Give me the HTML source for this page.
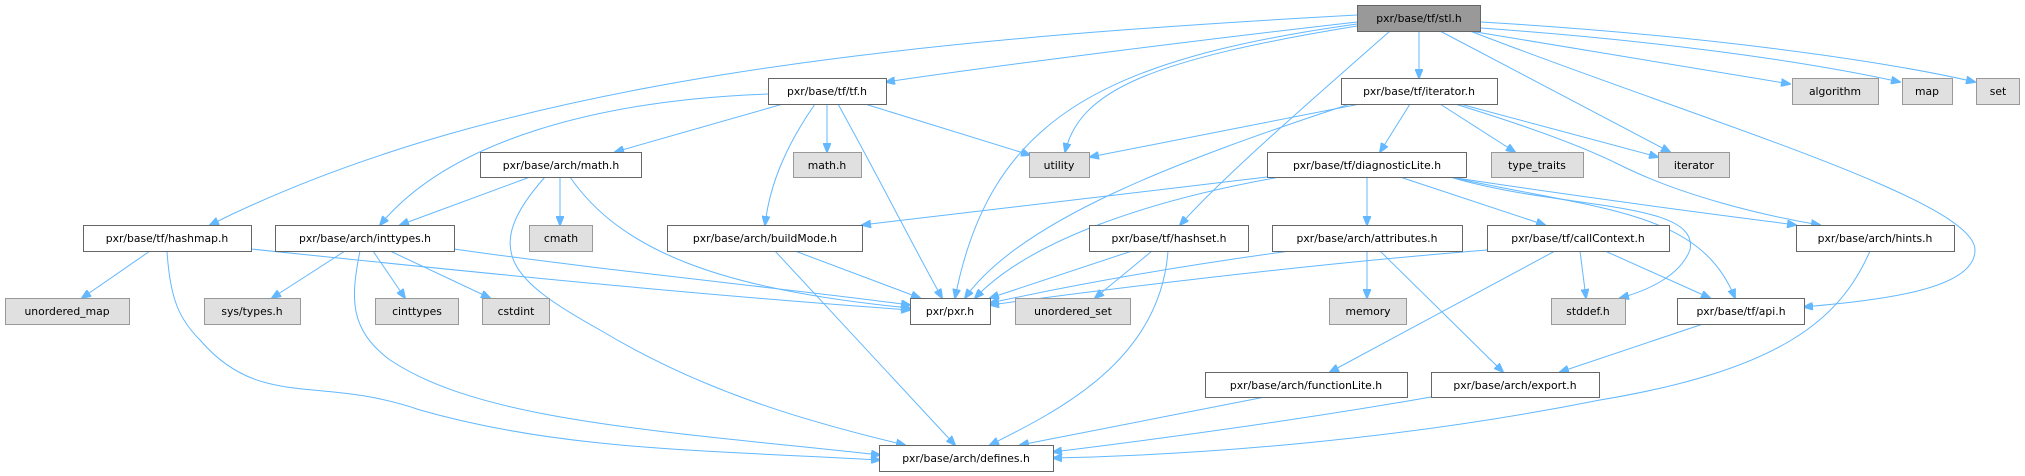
<!DOCTYPE html>
<html><head><meta charset="utf-8"><style>
html,body{margin:0;padding:0;background:#fff;}
svg{display:block;}
text{font-family:"DejaVu Sans","Liberation Sans",sans-serif;font-size:10.8px;fill:#000;text-anchor:middle;}
.n{fill:#fff;stroke:#666;stroke-width:1;}
.g{fill:#e0e0e0;stroke:#999;stroke-width:1;}
.r{fill:#999;stroke:#666;stroke-width:1;}
path.e{fill:none;stroke:#63b8ff;stroke-width:1;marker-end:url(#a);}
</style></head><body>
<svg width="2025" height="476" viewBox="0 0 2025 476" xmlns="http://www.w3.org/2000/svg">
<defs><marker id="a" markerWidth="10" markerHeight="8" refX="9" refY="4" orient="auto" markerUnits="userSpaceOnUse"><path d="M0,0 L10,4 L0,8 z" fill="#63b8ff" stroke="#63b8ff"/></marker></defs>
<!-- edges -->
<path class="e" d="M1357,15 C900,40 500,80 210,225"/>
<path class="e" d="M1357,22 C1200,40 1000,65 886,82"/>
<path class="e" d="M1357,24 C1100,60 990,120 955,298"/>
<path class="e" d="M1357,26 C1150,60 1080,90 1065,152"/>
<path class="e" d="M1390,31 C1300,110 1220,180 1180,225"/>
<path class="e" d="M1419,31 L1419,78"/>
<path class="e" d="M1440,31 L1670,152"/>
<path class="e" d="M1470,31 L1790,84"/>
<path class="e" d="M1481,28 C1650,40 1800,60 1900,82"/>
<path class="e" d="M1481,22 C1700,35 1880,60 1975,82"/>
<path class="e" d="M1470,31 C1700,120 1975,200 1975,250 C1975,290 1880,300 1804,307"/>
<path class="e" d="M768,94 C600,100 450,140 380,225"/>
<path class="e" d="M783,104 L615,152"/>
<path class="e" d="M827,104 L827,152"/>
<path class="e" d="M865,104 L1030,155"/>
<path class="e" d="M815,104 C790,140 770,180 765,225"/>
<path class="e" d="M838,104 C880,180 910,240 942,298"/>
<path class="e" d="M1360,104 L1090,157"/>
<path class="e" d="M1350,104 C1180,160 1020,220 965,298"/>
<path class="e" d="M1410,104 L1380,152"/>
<path class="e" d="M1440,104 L1515,152"/>
<path class="e" d="M1460,104 L1658,157"/>
<path class="e" d="M1455,104 C1540,130 1590,150 1620,165 C1680,195 1760,215 1820,225"/>
<path class="e" d="M530,177 L400,225"/>
<path class="e" d="M560,177 L560,225"/>
<path class="e" d="M570,177 C620,250 720,290 910,308"/>
<path class="e" d="M545,177 C480,250 510,280 600,330 C700,390 800,420 905,445"/>
<path class="e" d="M1267,177 L862,225"/>
<path class="e" d="M1280,177 C1150,200 1030,240 975,298"/>
<path class="e" d="M1367,177 L1367,225"/>
<path class="e" d="M1400,177 L1545,225"/>
<path class="e" d="M1450,177 C1600,200 1720,215 1796,225"/>
<path class="e" d="M1450,177 C1560,210 1700,200 1690,250 C1680,275 1650,290 1620,298"/>
<path class="e" d="M1450,177 C1600,210 1700,210 1735,298"/>
<path class="e" d="M150,251 L82,298"/>
<path class="e" d="M251,249 C500,275 700,295 910,310"/>
<path class="e" d="M167,251 C170,300 180,320 200,340 C260,410 320,375 420,410 C560,450 700,450 880,460"/>
<path class="e" d="M345,251 L272,298"/>
<path class="e" d="M373,251 L405,298"/>
<path class="e" d="M390,251 L490,298"/>
<path class="e" d="M454,249 C600,270 800,290 910,305"/>
<path class="e" d="M360,251 C350,300 350,330 390,360 C480,420 650,430 880,455"/>
<path class="e" d="M795,251 L920,298"/>
<path class="e" d="M775,251 L955,445"/>
<path class="e" d="M1132,251 L990,298"/>
<path class="e" d="M1152,251 L1095,298"/>
<path class="e" d="M1168,251 C1160,360 1060,410 990,445"/>
<path class="e" d="M1290,251 C1150,270 1050,290 990,303"/>
<path class="e" d="M1367,251 L1367,298"/>
<path class="e" d="M1380,251 L1503,372"/>
<path class="e" d="M1487,250 C1300,265 1100,290 990,305"/>
<path class="e" d="M1580,251 L1586,298"/>
<path class="e" d="M1605,251 L1710,298"/>
<path class="e" d="M1555,251 L1330,372"/>
<path class="e" d="M1703,324 L1560,372"/>
<path class="e" d="M1431,397 C1300,420 1150,440 1053,452"/>
<path class="e" d="M1265,397 L1020,445"/>
<path class="e" d="M1870,251 C1840,320 1780,370 1600,400 C1400,440 1200,455 1053,458"/>
<!-- nodes -->
<rect class="r" x="1357.5" y="5.5" width="123" height="26"/><text x="1419" y="22">pxr/base/tf/stl.h</text>
<rect class="n" x="768.5" y="78.5" width="118" height="26"/><text x="827" y="95">pxr/base/tf/tf.h</text>
<rect class="n" x="1341.5" y="78.5" width="156" height="26"/><text x="1419" y="95">pxr/base/tf/iterator.h</text>
<rect class="g" x="1792.5" y="78.5" width="86" height="26"/><text x="1835" y="95">algorithm</text>
<rect class="g" x="1902.5" y="78.5" width="50" height="26"/><text x="1927" y="95">map</text>
<rect class="g" x="1976.5" y="78.5" width="43" height="26"/><text x="1998" y="95">set</text>
<rect class="n" x="480.5" y="152.5" width="161" height="25"/><text x="561" y="169">pxr/base/arch/math.h</text>
<rect class="g" x="793.5" y="152.5" width="68" height="25"/><text x="827" y="169">math.h</text>
<rect class="g" x="1029.5" y="152.5" width="60" height="25"/><text x="1059" y="169">utility</text>
<rect class="n" x="1267.5" y="152.5" width="199" height="25"/><text x="1367" y="169">pxr/base/tf/diagnosticLite.h</text>
<rect class="g" x="1491.5" y="152.5" width="92" height="25"/><text x="1537" y="169">type_traits</text>
<rect class="g" x="1658.5" y="152.5" width="71" height="25"/><text x="1694" y="169">iterator</text>
<rect class="n" x="83.5" y="225.5" width="168" height="26"/><text x="167" y="242">pxr/base/tf/hashmap.h</text>
<rect class="n" x="275.5" y="225.5" width="179" height="26"/><text x="365" y="242">pxr/base/arch/inttypes.h</text>
<rect class="g" x="529.5" y="225.5" width="63" height="26"/><text x="561" y="242">cmath</text>
<rect class="n" x="667.5" y="225.5" width="195" height="26"/><text x="765" y="242">pxr/base/arch/buildMode.h</text>
<rect class="n" x="1089.5" y="225.5" width="159" height="26"/><text x="1169" y="242">pxr/base/tf/hashset.h</text>
<rect class="n" x="1272.5" y="225.5" width="190" height="26"/><text x="1367" y="242">pxr/base/arch/attributes.h</text>
<rect class="n" x="1487.5" y="225.5" width="182" height="26"/><text x="1578" y="242">pxr/base/tf/callContext.h</text>
<rect class="n" x="1796.5" y="225.5" width="158" height="26"/><text x="1875" y="242">pxr/base/arch/hints.h</text>
<rect class="g" x="5.5" y="298.5" width="124" height="26"/><text x="67" y="315">unordered_map</text>
<rect class="g" x="204.5" y="298.5" width="96" height="26"/><text x="252" y="315">sys/types.h</text>
<rect class="g" x="375.5" y="298.5" width="83" height="26"/><text x="417" y="315">cinttypes</text>
<rect class="g" x="482.5" y="298.5" width="67" height="26"/><text x="516" y="315">cstdint</text>
<rect class="n" x="910.5" y="298.5" width="80" height="26"/><text x="950" y="315">pxr/pxr.h</text>
<rect class="g" x="1015.5" y="298.5" width="115" height="26"/><text x="1073" y="315">unordered_set</text>
<rect class="g" x="1329.5" y="298.5" width="77" height="26"/><text x="1368" y="315">memory</text>
<rect class="g" x="1551.5" y="298.5" width="74" height="26"/><text x="1588" y="315">stddef.h</text>
<rect class="n" x="1677.5" y="298.5" width="127" height="26"/><text x="1741" y="315">pxr/base/tf/api.h</text>
<rect class="n" x="1205.5" y="372.5" width="202" height="25"/><text x="1306" y="389">pxr/base/arch/functionLite.h</text>
<rect class="n" x="1431.5" y="372.5" width="168" height="25"/><text x="1515" y="389">pxr/base/arch/export.h</text>
<rect class="n" x="879.5" y="445.5" width="174" height="26"/><text x="966" y="462">pxr/base/arch/defines.h</text>
</svg>
</body></html>
